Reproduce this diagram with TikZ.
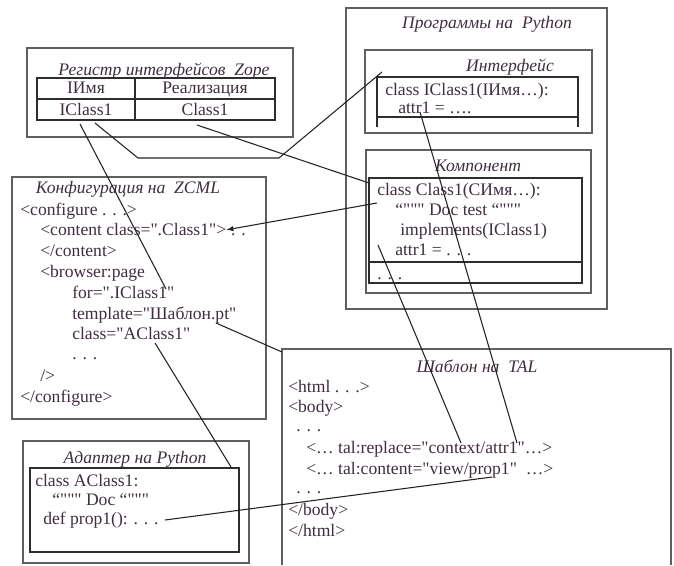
\documentclass[tikz,border=0pt]{standalone}
\usepackage{fontspec}
\setmainfont{Liberation Serif}[Ligatures=TeXOff]
\usetikzlibrary{arrows.meta}

\definecolor{inkc}{RGB}{62,46,62}
\definecolor{framegray}{RGB}{95,95,95}
\definecolor{innergray}{RGB}{45,45,45}
\definecolor{wiregray}{RGB}{35,35,35}
\newcommand{\codefont}{\fontsize{13.2}{16}\selectfont}

\begin{document}
\begin{tikzpicture}[x=0.75pt,y=0.75pt,yscale=-1,xscale=1,
	frame/.style={draw=framegray,line width=1.1pt},
	inframe/.style={draw=innergray,line width=1pt},
	wire/.style={draw=wiregray,line width=0.8pt},
	code/.style={anchor=base west,inner sep=0pt,text=inkc,font=\codefont},
	ttl/.style={anchor=base,inner sep=0pt,text=inkc,font=\codefont\itshape}]

	\useasboundingbox (0,0) rectangle (674,565);

	%%REGISTRY---------------------------------------------
	%outer box
	\draw [frame] (27,48) rectangle (293,137);
	%table
	\draw [inframe] (37,78) rectangle (275,120);
	\draw [inframe] (37,99) -- (275,99);
	\draw [inframe] (135,78) -- (135,120);
	% Text Node
	\node (regTitle) [ttl] at (164,75) {Регистр интерфейсов\ \ Zope};
	\node (regName) [code,anchor=base] at (86,93) {IИмя};
	\node (regImpl) [code,anchor=base] at (205,93) {Реализация};
	\node (regIClass) [code,anchor=base] at (86,115) {IClass1};
	\node (regClass) [code,anchor=base] at (205,115) {Class1};

	%%PROGRAMS---------------------------------------------
	\draw [frame] (346,8) rectangle (607,309);
	\node (progTitle) [ttl] at (487,28) {Программы на\ \ Python};
	%Interface
	\draw [frame] (365,50) rectangle (592,133);
	\node (ifTitle) [ttl] at (510,71) {Интерфейс};
	\draw [inframe] (377,127) -- (377,77) -- (578,77) -- (578,127);
	\draw [inframe] (377,117) -- (578,117);
	\node (ifClass) [code] at (385,95) {class IClass1(IИмя…):};
	\node (ifAttr) [code] at (398,113) {attr1 = ….};
	%Component
	\draw [frame] (366,150) rectangle (591,293);
	\node (cmpTitle) [ttl] at (478,171) {Компонент};
	\draw [inframe] (369,178) rectangle (582,283);
	\draw [inframe] (369,262) -- (582,262);
	\node (cmpClass) [code] at (377,195) {class Class1(CИмя…):};
	\node (cmpDoc) [code] at (395,215) {“""" Doc test “"""};
	\node (cmpImpl) [code] at (400,235) {implements(IClass1)};
	\node (cmpAttr) [code] at (395,255) {attr1 = . . .};
	\node (cmpMore) [code] at (377,279) {. . .};

	%%ZCML---------------------------------------------
	\draw [frame] (12,177) rectangle (266,419);
	\node (cfgTitle) [ttl] at (128,193) {Конфигурация на\ \ ZCML};
	\node (cfgOpen) [code] at (20,215) {<configure . . .>};
	\node (cfgContent) [code] at (40,235.8) {<content class=".Class1">};
	\node (cfgDots) [code] at (cfgContent.base east) {\ . .};
	\node (cfgContentEnd) [code] at (40,256.6) {</content>};
	\node (cfgPage) [code] at (40,277.4) {<browser:page};
	\node (cfgFor) [code] at (72,298.2) {for=".IClass1"};
	\node (cfgTpl) [code] at (72,319) {template="Шаблон.pt"};
	\node (cfgClass) [code] at (72,339.8) {class="AClass1"};
	\node (cfgMore) [code] at (72,359) {. . .};
	\node (cfgSlash) [code] at (40,381.4) {/>};
	\node (cfgClose) [code] at (20,402.2) {</configure>};

	%%TEMPLATE---------------------------------------------
	\draw [frame] (282,565) -- (282,349) -- (671,349) -- (671,565);
	\node (tplTitle) [ttl] at (477,372) {Шаблон на\ \ TAL};
	\node (tplHtml) [code] at (288,392) {<html . . .>};
	\node (tplBody) [code] at (288,412.6) {<body>};
	\node (tplDots) [code] at (296,431) {. . .};
	\node (tplReplace) [code] at (306,453.8) {<… tal:replace="context/attr1"…>};
	\node (tplContent) [code] at (306,474.4) {<… tal:content="view/prop1"\ \ …>};
	\node (tplDotsB) [code] at (296,493) {. . .};
	\node (tplBodyEnd) [code] at (288,515.6) {</body>};
	\node (tplHtmlEnd) [code] at (288,536.2) {</html>};

	%%ADAPTER---------------------------------------------
	\draw [frame] (23,441) rectangle (249,563);
	\node (adTitle) [ttl] at (135,463) {Адаптер на Python};
	\draw [inframe] (30,468) rectangle (239,552);
	\node (adClass) [code] at (35,486) {class AClass1:};
	\node (adDoc) [code] at (52,505) {“""" Doc “"""};
	\node (adProp) [code] at (43,524) {def prop1(): . . .};

	%%connector ends
	\coordinate (icA) at (80,124);
	\coordinate (icB) at (95,123);
	\coordinate (clA) at (197,125);
	\coordinate (kneeA) at (138,158);
	\coordinate (kneeB) at (279,158);
	\coordinate (ifCorner) at (382,72);
	\coordinate (forEnd) at (166,289);
	\coordinate (cmpLeft) at (369,183);
	\coordinate (cmpDocL) at (377,203);
	\coordinate (ifAttrPt) at (420,112);
	\coordinate (cmpAttrPt) at (378,245);
	\coordinate (tplAttrPt) at (517,443);
	\coordinate (tplCtxPt) at (461,443);
	\coordinate (tplFilePt) at (216,323);
	\coordinate (tplCorner) at (282,352);
	\coordinate (aclassPt) at (155,343);
	\coordinate (adCorner) at (231,467);
	\coordinate (adPropPt) at (165,520);
	\coordinate (tplPropPt) at (492,477);

	%%CONNECTORS
	\draw [wire] (icA) -- (forEnd);
	\draw [wire] (icB) -- (kneeA) -- (kneeB) -- (ifCorner);
	\draw [wire] (clA) -- (cmpLeft);
	\draw [wire,->,>=latex] (cmpDocL) -- (cfgContent.east);
	\draw [wire] (ifAttrPt) -- (tplAttrPt);
	\draw [wire] (cmpAttrPt) -- (tplCtxPt);
	\draw [wire] (tplFilePt) -- (tplCorner);
	\draw [wire] (aclassPt) -- (adCorner);
	\draw [wire] (adPropPt) -- (tplPropPt);

\end{tikzpicture}
\end{document}
